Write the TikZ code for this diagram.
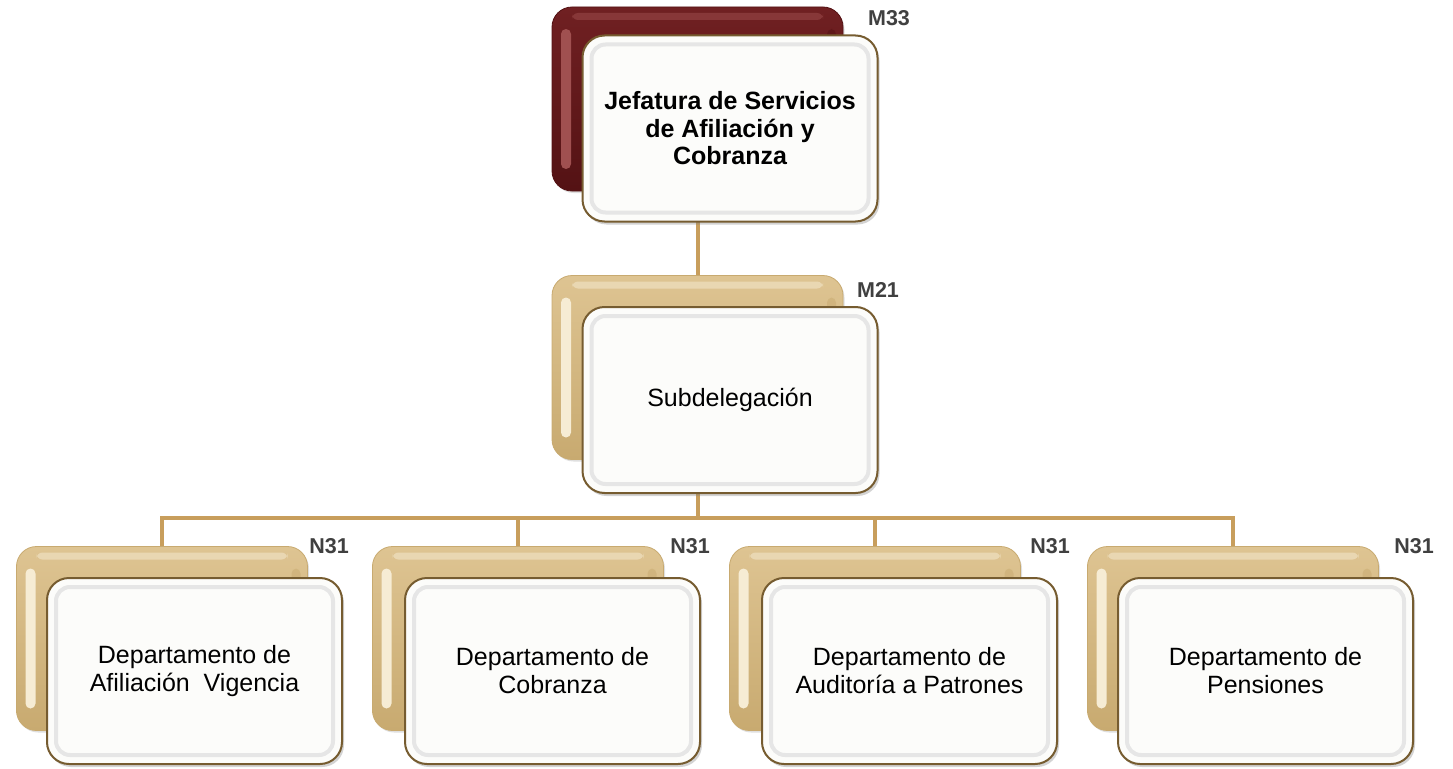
\documentclass[tikz,border=0pt]{standalone}
\usepackage{fontspec}
\setmainfont{Liberation Sans}
\usetikzlibrary{shadows,calc}
\definecolor{goldline}{RGB}{200,158,92}
\definecolor{tanout}{RGB}{222,196,146}
\definecolor{tandark}{RGB}{200,170,112}
\definecolor{tanin}{RGB}{246,236,212}
\definecolor{redout}{RGB}{112,32,34}
\definecolor{reddark}{RGB}{84,18,20}
\definecolor{redin}{RGB}{160,80,80}
\definecolor{frontborder}{RGB}{118,92,48}
\definecolor{frontfill}{RGB}{252,252,250}
\definecolor{bevel}{RGB}{230,230,230}
\definecolor{labelgray}{RGB}{64,64,64}
\tikzset{
  backbox/.style n args={3}{rounded corners=20pt, minimum width=291pt, minimum height=184pt,
    draw=#2, line width=0.8pt, top color=#1, bottom color=#2, inner sep=0pt,
    drop shadow={shadow xshift=1.5pt, shadow yshift=-2pt, opacity=0.25},
    path picture={\fill[#3, rounded corners=5pt]
      ($(path picture bounding box.south west)+(9pt,22pt)$) rectangle
      ($(path picture bounding box.north west)+(19pt,-22pt)$);
      \fill[#3, opacity=0.5, rounded corners=6pt]
      ($(path picture bounding box.north west)+(20pt,-6pt)$) rectangle
      ($(path picture bounding box.north east)+(-20pt,-13pt)$);
      \fill[#2, opacity=0.5, rounded corners=5pt]
      ($(path picture bounding box.south east)+(-16pt,22pt)$) rectangle
      ($(path picture bounding box.north east)+(-7pt,-22pt)$);}},
  tanbox/.style={backbox={tanout}{tandark}{tanin}},
  redbox/.style={backbox={redout}{reddark}{redin}},
  frontbox/.style={rounded corners=22pt, minimum width=295pt, minimum height=186pt,
    draw=frontborder, line width=2pt, fill=frontfill, align=center,
    font=\fontsize{25}{28}\selectfont, inner sep=0pt,
    drop shadow={shadow xshift=2pt, shadow yshift=-3pt, opacity=0.35},
    path picture={\draw[bevel, line width=4pt, rounded corners=14pt]
      ($(path picture bounding box.south west)+(9pt,9pt)$) rectangle
      ($(path picture bounding box.north east)+(-9pt,-9pt)$);
      \fill[frontfill, rounded corners=10pt]
      ($(path picture bounding box.south west)+(13pt,18pt)$) rectangle
      ($(path picture bounding box.north east)+(-13pt,-14pt)$);}},
  lvl/.style={font=\fontsize{21.5}{24}\selectfont\bfseries, text=labelgray, inner sep=0pt},
  conn/.style={draw=goldline, line width=4pt}
}
\begin{document}
\begin{tikzpicture}[x=1pt,y=-1pt]
\useasboundingbox (0,0) rectangle (1453,768);
\coordinate (bus) at (697.5,518);
% back boxes
\node[redbox] (topback) at (697.5,99) {};
\node[tanbox] (midback) at (697.5,367.5) {};
% connectors
\draw[conn] (topback.south) -- (midback.north);
\draw[conn] (midback.south) -- (bus);
\node[tanbox] (b1back) at (162,638.5) {};
\node[tanbox] (b2back) at (518,638.5) {};
\node[tanbox] (b3back) at (875,638.5) {};
\node[tanbox] (b4back) at (1233,638.5) {};
\draw[conn, line join=miter] (bus) -| (b1back.north);
\draw[conn, line join=miter] (bus) -| (b2back.north);
\draw[conn, line join=miter] (bus) -| (b3back.north);
\draw[conn, line join=miter] (bus) -| (b4back.north);
% front boxes
\node[frontbox, font=\fontsize{25}{27.5}\selectfont\bfseries] (top) at (730,128.5)
  {Jefatura de Servicios\\ de Afiliación y\\ Cobranza};
\node[frontbox] (mid) at (730,400) {Subdelegación};
\node[frontbox] (b1) at (194.5,671) {Departamento de\\Afiliación~~Vigencia};
\node[frontbox] (b2) at (552.5,671) {Departamento de\\Cobranza};
\node[frontbox] (b3) at (909.5,671) {Departamento de\\Auditoría a Patrones};
\node[frontbox] (b4) at (1265.5,671) {Departamento de\\Pensiones};
% level labels
\node[lvl] (l0) at (889,18) {M33};
\node[lvl] (l1) at (878,290) {M21};
\node[lvl] (l2) at (329,546) {N31};
\node[lvl] (l3) at (690,546) {N31};
\node[lvl] (l4) at (1050,546) {N31};
\node[lvl] (l5) at (1414,546) {N31};
\end{tikzpicture}
\end{document}
